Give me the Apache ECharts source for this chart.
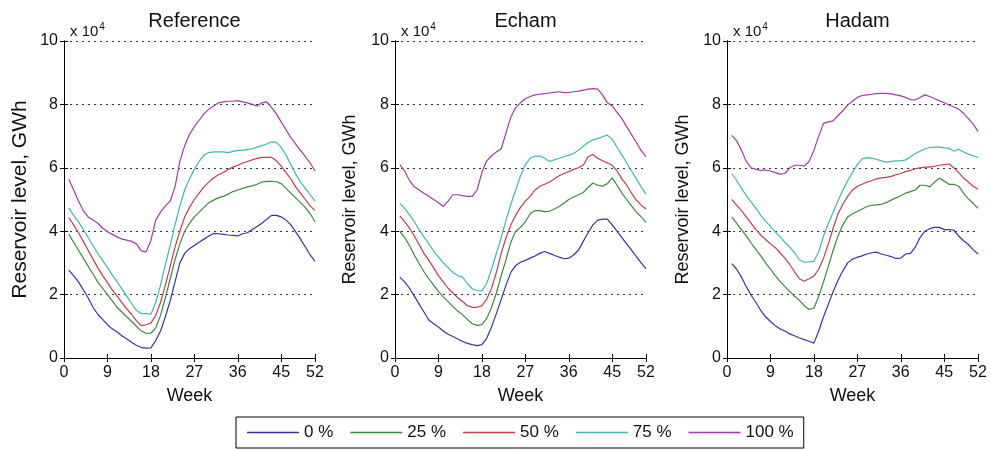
<!DOCTYPE html>
<html>
<head>
<meta charset="utf-8">
<script src="https://cdn.jsdelivr.net/npm/echarts@6/dist/echarts.min.js"></script>
<style>html,body{margin:0;padding:0;background:#fff}#c{width:991px;height:450px}</style>
</head>
<body>
<div id="c"></div>
<script>
// Week numbers
const weeks = [1,2,3,4,5,6,7,8,9,10,11,12,13,14,15,16,17,18,19,20,21,22,23,24,25,26,27,28,29,30,31,32,33,34,35,36,37,38,39,40,41,42,43,44,45,46,47,48,49,50,51,52];
const xTicks = [0,9,18,27,36,45,52];
const seriesNames = ['0 %','25 %','50 %','75 %','100 %'];
const panelTitles = ['Reference','Echam','Hadam'];

// Reservoir level (x 10^4 GWh) — Reference
const ref0   = [2.77,2.6,2.4,2.15,1.9,1.6,1.38,1.22,1.05,0.92,0.82,0.7,0.6,0.5,0.4,0.33,0.31,0.32,0.55,0.85,1.3,1.8,2.4,3.0,3.3,3.45,3.55,3.65,3.75,3.85,3.93,3.92,3.9,3.88,3.87,3.85,3.92,3.95,4.05,4.15,4.25,4.38,4.5,4.5,4.45,4.35,4.2,3.98,3.75,3.5,3.25,3.05];
const ref25  = [3.9,3.65,3.4,3.15,2.9,2.65,2.4,2.2,2.0,1.8,1.6,1.45,1.3,1.15,1.0,0.85,0.78,0.78,0.95,1.35,1.9,2.5,3.1,3.6,4.0,4.25,4.45,4.6,4.75,4.9,4.98,5.05,5.1,5.17,5.25,5.3,5.35,5.4,5.43,5.48,5.55,5.57,5.57,5.56,5.5,5.35,5.2,5.05,4.9,4.75,4.55,4.3];
const ref50  = [4.42,4.2,3.95,3.68,3.4,3.12,2.85,2.6,2.38,2.15,1.95,1.75,1.55,1.38,1.18,1.02,1.05,1.1,1.35,1.75,2.3,2.9,3.5,4.0,4.45,4.75,5.0,5.2,5.4,5.55,5.68,5.78,5.85,5.95,6.02,6.08,6.15,6.2,6.25,6.3,6.33,6.33,6.33,6.22,6.05,5.85,5.65,5.4,5.2,5.0,4.8,4.65];
const ref75  = [4.73,4.5,4.3,4.05,3.8,3.55,3.3,3.08,2.85,2.62,2.4,2.18,1.95,1.72,1.5,1.4,1.4,1.38,1.75,2.3,2.95,3.55,4.2,4.8,5.3,5.65,5.95,6.2,6.4,6.48,6.5,6.5,6.5,6.48,6.52,6.55,6.55,6.58,6.6,6.65,6.7,6.75,6.82,6.8,6.65,6.4,6.1,5.8,5.55,5.35,5.15,4.95];
const ref100 = [5.64,5.3,4.95,4.65,4.45,4.35,4.25,4.1,3.98,3.9,3.82,3.75,3.72,3.68,3.6,3.38,3.35,3.7,4.35,4.6,4.8,4.95,5.4,6.2,6.7,7.05,7.3,7.5,7.7,7.85,7.95,8.05,8.08,8.1,8.1,8.12,8.08,8.05,8.0,7.95,8.05,8.08,7.9,7.7,7.45,7.2,6.95,6.75,6.55,6.35,6.15,5.9];

// Echam
const ech0   = [2.55,2.4,2.2,1.95,1.7,1.45,1.2,1.08,0.98,0.85,0.75,0.68,0.6,0.52,0.46,0.42,0.39,0.42,0.62,0.98,1.4,1.85,2.3,2.7,2.92,3.02,3.08,3.15,3.22,3.3,3.36,3.3,3.24,3.18,3.13,3.15,3.25,3.4,3.68,3.95,4.2,4.35,4.38,4.38,4.2,4.0,3.8,3.6,3.4,3.2,3.0,2.82];
const ech25  = [4.0,3.8,3.55,3.25,2.98,2.72,2.5,2.3,2.1,1.93,1.78,1.62,1.48,1.36,1.22,1.08,1.03,1.05,1.25,1.6,2.05,2.6,3.1,3.65,4.0,4.12,4.3,4.55,4.65,4.65,4.62,4.63,4.7,4.78,4.88,5.0,5.08,5.15,5.22,5.38,5.52,5.45,5.42,5.5,5.68,5.45,5.2,5.0,4.8,4.6,4.45,4.28];
const ech50  = [4.48,4.3,4.1,3.85,3.58,3.3,3.08,2.85,2.6,2.4,2.2,2.05,1.9,1.78,1.65,1.6,1.6,1.65,1.85,2.2,2.7,3.3,3.8,4.2,4.5,4.75,4.95,5.1,5.3,5.42,5.48,5.55,5.65,5.75,5.82,5.88,5.95,6.0,6.08,6.35,6.42,6.3,6.22,6.15,6.08,5.9,5.65,5.45,5.2,4.98,4.82,4.7];
const ech75  = [4.88,4.72,4.52,4.3,4.05,3.82,3.6,3.38,3.18,3.0,2.85,2.7,2.6,2.55,2.35,2.18,2.13,2.12,2.35,2.8,3.3,3.8,4.35,4.85,5.3,5.75,6.1,6.3,6.37,6.37,6.3,6.2,6.25,6.3,6.35,6.4,6.45,6.55,6.68,6.8,6.88,6.92,6.98,7.03,6.9,6.65,6.4,6.15,5.9,5.65,5.4,5.17];
const ech100 = [6.1,5.9,5.6,5.4,5.3,5.2,5.1,5.0,4.9,4.78,4.95,5.15,5.15,5.12,5.1,5.1,5.3,5.85,6.22,6.38,6.5,6.6,7.1,7.6,7.9,8.05,8.18,8.25,8.3,8.32,8.34,8.36,8.38,8.4,8.37,8.38,8.4,8.42,8.45,8.48,8.5,8.48,8.3,8.05,7.95,7.75,7.55,7.3,7.05,6.8,6.55,6.35];

// Hadam
const had0   = [2.98,2.8,2.55,2.25,1.98,1.75,1.5,1.3,1.15,1.02,0.92,0.85,0.76,0.7,0.63,0.58,0.53,0.47,0.85,1.3,1.7,2.1,2.45,2.75,3.0,3.12,3.18,3.22,3.28,3.32,3.34,3.28,3.24,3.2,3.14,3.15,3.28,3.3,3.5,3.8,4.0,4.08,4.12,4.12,4.05,4.05,4.03,3.85,3.7,3.58,3.42,3.28];
const had25  = [4.45,4.25,4.05,3.85,3.62,3.42,3.22,3.0,2.8,2.6,2.42,2.25,2.1,1.95,1.82,1.65,1.53,1.57,1.95,2.4,2.9,3.4,3.85,4.2,4.45,4.55,4.62,4.7,4.78,4.82,4.83,4.85,4.9,4.98,5.05,5.12,5.2,5.25,5.3,5.45,5.45,5.4,5.55,5.67,5.58,5.48,5.48,5.42,5.2,5.02,4.88,4.72];
const had50  = [5.0,4.82,4.65,4.45,4.25,4.05,3.88,3.74,3.6,3.48,3.32,3.15,2.95,2.72,2.5,2.42,2.5,2.58,2.8,3.15,3.6,4.1,4.55,4.85,5.1,5.3,5.42,5.48,5.55,5.6,5.65,5.68,5.7,5.73,5.78,5.82,5.88,5.92,5.97,6.0,6.02,6.02,6.05,6.08,6.1,6.12,6.0,5.85,5.68,5.55,5.42,5.32];
const had75  = [5.82,5.6,5.35,5.12,4.92,4.72,4.5,4.32,4.15,3.98,3.82,3.65,3.5,3.32,3.1,3.02,3.03,3.05,3.35,3.85,4.25,4.6,4.95,5.3,5.6,5.85,6.1,6.28,6.32,6.3,6.27,6.22,6.18,6.2,6.22,6.22,6.25,6.35,6.45,6.52,6.6,6.64,6.65,6.65,6.63,6.62,6.52,6.58,6.5,6.43,6.38,6.32];
const had100 = [7.02,6.85,6.55,6.2,6.0,5.95,5.92,5.93,5.9,5.85,5.8,5.82,6.0,6.08,6.08,6.05,6.2,6.55,7.0,7.4,7.45,7.48,7.65,7.8,7.98,8.1,8.22,8.28,8.3,8.32,8.34,8.35,8.35,8.33,8.3,8.27,8.22,8.15,8.14,8.22,8.3,8.25,8.18,8.12,8.05,7.98,7.92,7.85,7.72,7.55,7.38,7.15];

const panels = [
  [ref0, ref25, ref50, ref75, ref100],
  [ech0, ech25, ech50, ech75, ech100],
  [had0, had25, had50, had75, had100]
];
const colors = ['#3434a8','#3a8a3a','#c83a4c','#3cb8b8','#a43aa8'];
const FONT = 'Liberation Sans, Arial, sans-serif';

const gridLefts = [64, 395, 727];
const gridW = 251, gridTop = 41, gridH = 317;
const nameSizes = [21, 18, 18];
const nameGaps = [33, 36, 35];

const grids = [], xAxes = [], yAxes = [], series = [], titles = [];
panels.forEach((p, i) => {
  grids.push({left: gridLefts[i], top: gridTop, width: gridW, height: gridH, containLabel: false});
  xAxes.push({
    type: 'value', gridIndex: i, min: 0, max: 52, interval: 9, position: 'bottom',
    axisLine: {show: true, lineStyle: {color: '#000', width: 1}},
    axisTick: {show: true, inside: true, length: 4, lineStyle: {color: '#000'}},
    axisLabel: {show: true, color: '#111', fontFamily: FONT, fontSize: 16, margin: 7, showMaxLabel: true, showMinLabel: true},
    splitLine: {show: false},
    name: 'Week', nameLocation: 'middle', nameGap: 29,
    nameTextStyle: {color: '#111', fontFamily: FONT, fontSize: 18}
  });
  yAxes.push({
    type: 'value', gridIndex: i, min: 0, max: 10, interval: 2, position: 'left',
    axisLine: {show: true, lineStyle: {color: '#000', width: 1}},
    axisTick: {show: true, inside: true, length: 4, lineStyle: {color: '#000'}},
    axisLabel: {show: true, color: '#111', fontFamily: FONT, fontSize: 16, margin: 6},
    splitLine: {show: true, lineStyle: {color: '#333', type: [2, 4], width: 1}},
    name: 'Reservoir level, GWh', nameLocation: 'middle', nameGap: nameGaps[i], nameRotate: 90,
    nameTextStyle: {color: '#111', fontFamily: FONT, fontSize: nameSizes[i]}
  });
  p.forEach((vals, k) => {
    series.push({
      type: 'line', name: seriesNames[k], xAxisIndex: i, yAxisIndex: i,
      data: weeks.map((w, j) => [w, vals[j]]),
      symbol: 'none', showSymbol: false,
      lineStyle: {color: colors[k], width: 1.2}, itemStyle: {color: colors[k]},
      animation: false, z: 3
    });
  });
  titles.push({
    text: panelTitles[i], left: gridLefts[i] + gridW / 2, top: 6, textAlign: 'center',
    textStyle: {fontFamily: FONT, fontSize: 20, fontWeight: 'normal', color: '#111'}
  });
  titles.push({
    text: 'x 10{s|4}', left: gridLefts[i] + 1, top: 17,
    textStyle: {fontFamily: FONT, fontSize: 15, fontWeight: 'normal', color: '#111',
      rich: {s: {fontFamily: FONT, fontSize: 10, verticalAlign: 'top', padding: [0, 0, 10, 1], color: '#111'}}}
  });
});
panels.forEach((p, i) => {
  xAxes.push({
    type: 'value', gridIndex: i, min: 0, max: 52, interval: 9, position: 'top',
    axisLine: {show: true, lineStyle: {color: '#000', width: 1}},
    axisTick: {show: true, inside: true, length: 4, lineStyle: {color: '#000'}},
    axisLabel: {show: false}, splitLine: {show: false}
  });
  yAxes.push({
    type: 'value', gridIndex: i, min: 0, max: 10, interval: 2, position: 'right',
    axisLine: {show: true, lineStyle: {color: '#000', width: 1}},
    axisTick: {show: true, inside: true, length: 4, lineStyle: {color: '#000'}},
    axisLabel: {show: false}, splitLine: {show: false}
  });
});

const chart = echarts.init(document.getElementById('c'), null, {renderer: 'canvas'});
chart.setOption({
  backgroundColor: '#fff',
  animation: false,
  title: titles,
  grid: grids,
  xAxis: xAxes,
  yAxis: yAxes,
  legend: {
    data: seriesNames, left: 236, top: 417, orient: 'horizontal',
    icon: 'rect',
    borderColor: '#000', borderWidth: 1, padding: [7, 10, 7, 11],
    itemWidth: 52, itemHeight: 1.4, itemGap: 17,
    textStyle: {fontFamily: FONT, fontSize: 17, color: '#111', lineHeight: 17}
  },
  series: series
});
</script>
</body>
</html>
